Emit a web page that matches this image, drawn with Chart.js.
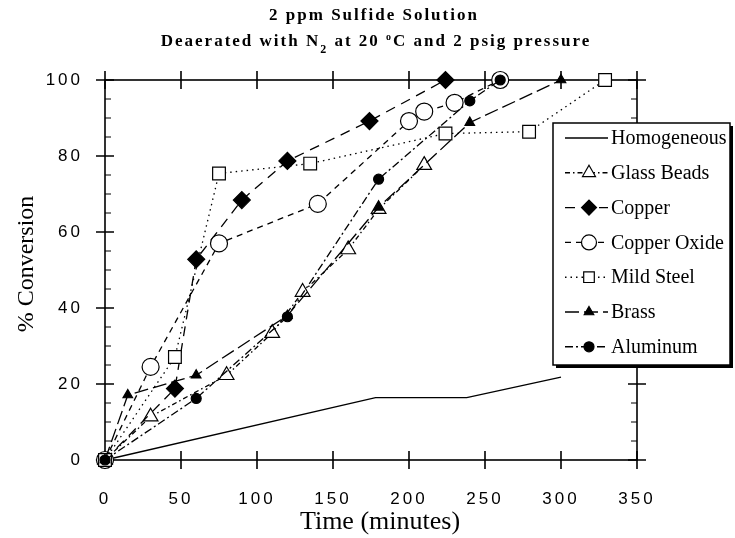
<!DOCTYPE html>
<html><head><meta charset="utf-8">
<script src="https://cdn.jsdelivr.net/npm/chart.js@4.4.1/dist/chart.umd.min.js"></script>
<style>html,body{margin:0;padding:0;background:#fff;}canvas{display:block;}</style>
</head><body>
<canvas id="c" width="735" height="538" style="width:735px;height:538px"></canvas>
<script>
// ---- data (time in minutes, % conversion) ----
const seriesNames = ['Homogeneous','Glass Beads','Copper','Copper Oxide','Mild Steel','Brass','Aluminum'];
const homogeneousTime = [0, 178, 238, 300];
const homogeneousConv = [0, 16.4, 16.4, 21.8];
const glassTime = [0, 30, 80, 110, 130, 160, 180, 210];
const glassConv = [0, 11.4, 22.3, 33.4, 44.2, 55.4, 66.0, 77.6];
const copperTime = [0, 46, 60, 90, 120, 174, 224];
const copperConv = [0, 18.8, 52.8, 68.4, 78.7, 89.2, 100];
const copperOxideTime = [0, 30, 75, 140, 200, 210, 230, 260];
const copperOxideConv = [0, 24.5, 57.0, 67.4, 89.2, 91.7, 94.0, 100];
const mildSteelTime = [0, 46, 75, 135, 224, 279, 329];
const mildSteelConv = [0, 27.1, 75.4, 78.0, 85.9, 86.4, 100];
const brassTime = [0, 15, 60, 120, 180, 240, 300];
const brassConv = [0, 17.1, 22.3, 38.0, 66.5, 88.8, 100];
const aluminumTime = [0, 60, 120, 180, 240, 260];
const aluminumConv = [0, 16.2, 37.7, 73.9, 94.5, 100];
const xTickValues = [0, 50, 100, 150, 200, 250, 300, 350];
const yTickValues = [0, 20, 40, 60, 80, 100];

const pts = (t, v) => t.map((x, i) => ({x, y: v[i]}));

const styles = [
  {dash: [], style: false, r: 0, fill: '#000'},
  {dash: [5,3,1.5,3], style: 'triangle', r: 8.5, fill: '#fff'},
  {dash: [10,7], style: 'rectRot', r: 8.5, fill: '#000'},
  {dash: [6,5], style: 'circle', r: 8.5, fill: '#fff'},
  {dash: [1.5,4], style: 'rect', r: 9, fill: '#fff'},
  {dash: [14,5], style: 'triangle', r: 5.5, fill: '#000'},
  {dash: [8,3,2,3], style: 'circle', r: 5, fill: '#000'}
];
const seriesData = [
  pts(homogeneousTime, homogeneousConv),
  pts(glassTime, glassConv),
  pts(copperTime, copperConv),
  pts(copperOxideTime, copperOxideConv),
  pts(mildSteelTime, mildSteelConv),
  pts(brassTime, brassConv),
  pts(aluminumTime, aluminumConv)
];
const datasets = seriesNames.map((name, i) => ({
  label: name,
  data: seriesData[i],
  showLine: true,
  tension: 0,
  clip: false,
  order: 6 - i,
  borderColor: '#000',
  borderWidth: 1.3,
  borderDash: styles[i].dash,
  pointStyle: styles[i].style || 'circle',
  pointRadius: styles[i].r,
  pointHoverRadius: styles[i].r,
  pointBackgroundColor: styles[i].fill,
  pointBorderColor: '#000',
  pointBorderWidth: 1.2
}));

function drawMarker(ctx, style, r, fill, x, y) {
  if (!style) return;
  ctx.save();
  ctx.setLineDash([]);
  ctx.fillStyle = fill; ctx.strokeStyle = '#000'; ctx.lineWidth = 1.2;
  ctx.beginPath();
  if (style === 'circle') ctx.arc(x, y, r, 0, Math.PI * 2);
  else if (style === 'triangle') {
    for (let k = 0; k < 3; k++) {
      const a = k * 2 * Math.PI / 3;
      const px = x + Math.sin(a) * r, py = y - Math.cos(a) * r;
      if (k === 0) ctx.moveTo(px, py); else ctx.lineTo(px, py);
    }
    ctx.closePath();
  } else if (style === 'rectRot') {
    ctx.moveTo(x - r, y); ctx.lineTo(x, y - r); ctx.lineTo(x + r, y); ctx.lineTo(x, y + r); ctx.closePath();
  } else if (style === 'rect') {
    const s = r * Math.SQRT1_2; ctx.rect(x - s, y - s, 2 * s, 2 * s);
  }
  ctx.fill(); ctx.stroke();
  ctx.restore();
}

function drawRuns(ctx, runs, cx, y) {
  let total = 0;
  runs.forEach(r => { ctx.font = r.font; r.w = ctx.measureText(r.t).width; total += r.w; });
  let x = cx - total / 2;
  runs.forEach(r => { ctx.font = r.font; ctx.fillText(r.t, x, y + (r.dy || 0)); x += r.w; });
}

const framePlugin = {
  id: 'frame',
  beforeDraw(chart) {
    const c = chart.ctx;
    c.save(); c.fillStyle = '#fff'; c.fillRect(0, 0, chart.width, chart.height); c.restore();
    c.letterSpacing = '3px';
  },
  beforeDatasetsDraw(chart) {
    const c = chart.ctx;
    c.letterSpacing = '0px';
    const a = chart.chartArea, xs = chart.scales.x, ys = chart.scales.y;
    c.save();
    c.strokeStyle = '#000'; c.lineWidth = 1.6; c.setLineDash([]);
    c.strokeRect(a.left, a.top, a.right - a.left, a.bottom - a.top);
    c.beginPath();
    xTickValues.forEach(v => {
      const px = xs.getPixelForValue(v);
      c.moveTo(px, a.bottom - 9); c.lineTo(px, a.bottom + 9);
      c.moveTo(px, a.top - 9); c.lineTo(px, a.top + 9);
    });
    yTickValues.forEach(v => {
      const py = ys.getPixelForValue(v);
      c.moveTo(a.left - 9, py); c.lineTo(a.left + 9, py);
      c.moveTo(a.right - 9, py); c.lineTo(a.right + 9, py);
    });
    c.stroke();
    c.lineWidth = 1.2;
    c.beginPath();
    for (let v = 5; v < 100; v += 5) {
      if (v % 20 === 0) continue;
      const py = ys.getPixelForValue(v);
      c.moveTo(a.left, py); c.lineTo(a.left + 6, py);
      c.moveTo(a.right - 6, py); c.lineTo(a.right, py);
    }
    c.stroke();
    c.restore();
  },
  afterDraw(chart) {
    const c = chart.ctx;
    c.save();
    c.fillStyle = '#000';
    c.textBaseline = 'middle';
    // titles
    c.textAlign = 'left';
    c.letterSpacing = '2px';
    drawRuns(c, [{t: '2 ppm Sulfide Solution', font: 'bold 17px "Liberation Serif"'}], 374, 16);
    drawRuns(c, [
      {t: 'Deaerated with N', font: 'bold 17px "Liberation Serif"'},
      {t: '2', font: 'bold 12px "Liberation Serif"', dy: 8},
      {t: ' at 20 ', font: 'bold 17px "Liberation Serif"'},
      {t: 'o', font: 'bold 10px "Liberation Serif"', dy: -5},
      {t: 'C and 2 psig pressure', font: 'bold 17px "Liberation Serif"'}
    ], 376, 42);
    c.letterSpacing = '0px';
    // axis titles
    c.textAlign = 'center';
    c.font = '26px "Liberation Serif"';
    c.fillText('Time (minutes)', 380, 522);
    c.font = '24px "Liberation Serif"';
    c.save();
    c.translate(27, 264); c.rotate(-Math.PI / 2);
    c.fillText('% Conversion', 0, 0);
    c.restore();
    // legend
    const L = {x: 553, y: 123, w: 177, h: 242};
    c.fillStyle = '#000'; c.fillRect(L.x + 3, L.y + 3, L.w, L.h);
    c.fillStyle = '#fff'; c.fillRect(L.x, L.y, L.w, L.h);
    c.strokeStyle = '#000'; c.lineWidth = 1.5; c.strokeRect(L.x, L.y, L.w, L.h);
    c.textAlign = 'left';
    c.font = '20px "Liberation Serif"';
    seriesNames.forEach((name, i) => {
      const y = 138 + i * 34.8;
      c.save();
      c.strokeStyle = '#000'; c.lineWidth = 1.4; c.setLineDash(styles[i].dash);
      c.beginPath(); c.moveTo(565, y); c.lineTo(608, y); c.stroke();
      c.restore();
      drawMarker(c, styles[i].style, Math.min(styles[i].r, 7.5), styles[i].fill, 589, y);
      c.fillStyle = '#000';
      c.fillText(name, 611, y + 1);
    });
    c.restore();
  }
};

new Chart(document.getElementById('c'), {
  type: 'scatter',
  data: {datasets},
  options: {
    responsive: false,
    animation: false,
    events: [],
    layout: {padding: {top: 80, right: 98, left: 0, bottom: 0}},
    scales: {
      x: {
        type: 'linear', min: 0, max: 350,
        afterBuildTicks(s) { s.ticks = xTickValues.map(v => ({value: v})); },
        ticks: {color: '#000', font: {family: 'Liberation Sans', size: 17}, padding: 21, maxRotation: 0},
        grid: {display: false}, border: {display: false},
        afterFit(s) { s.height = 78; }
      },
      y: {
        type: 'linear', min: 0, max: 100,
        afterBuildTicks(s) { s.ticks = yTickValues.map(v => ({value: v})); },
        ticks: {color: '#000', font: {family: 'Liberation Sans', size: 17}, padding: 14},
        grid: {display: false}, border: {display: false},
        afterFit(s) { s.width = 105; }
      }
    },
    plugins: {legend: {display: false}, tooltip: {enabled: false}}
  },
  plugins: [framePlugin]
});
</script>
</body></html>
